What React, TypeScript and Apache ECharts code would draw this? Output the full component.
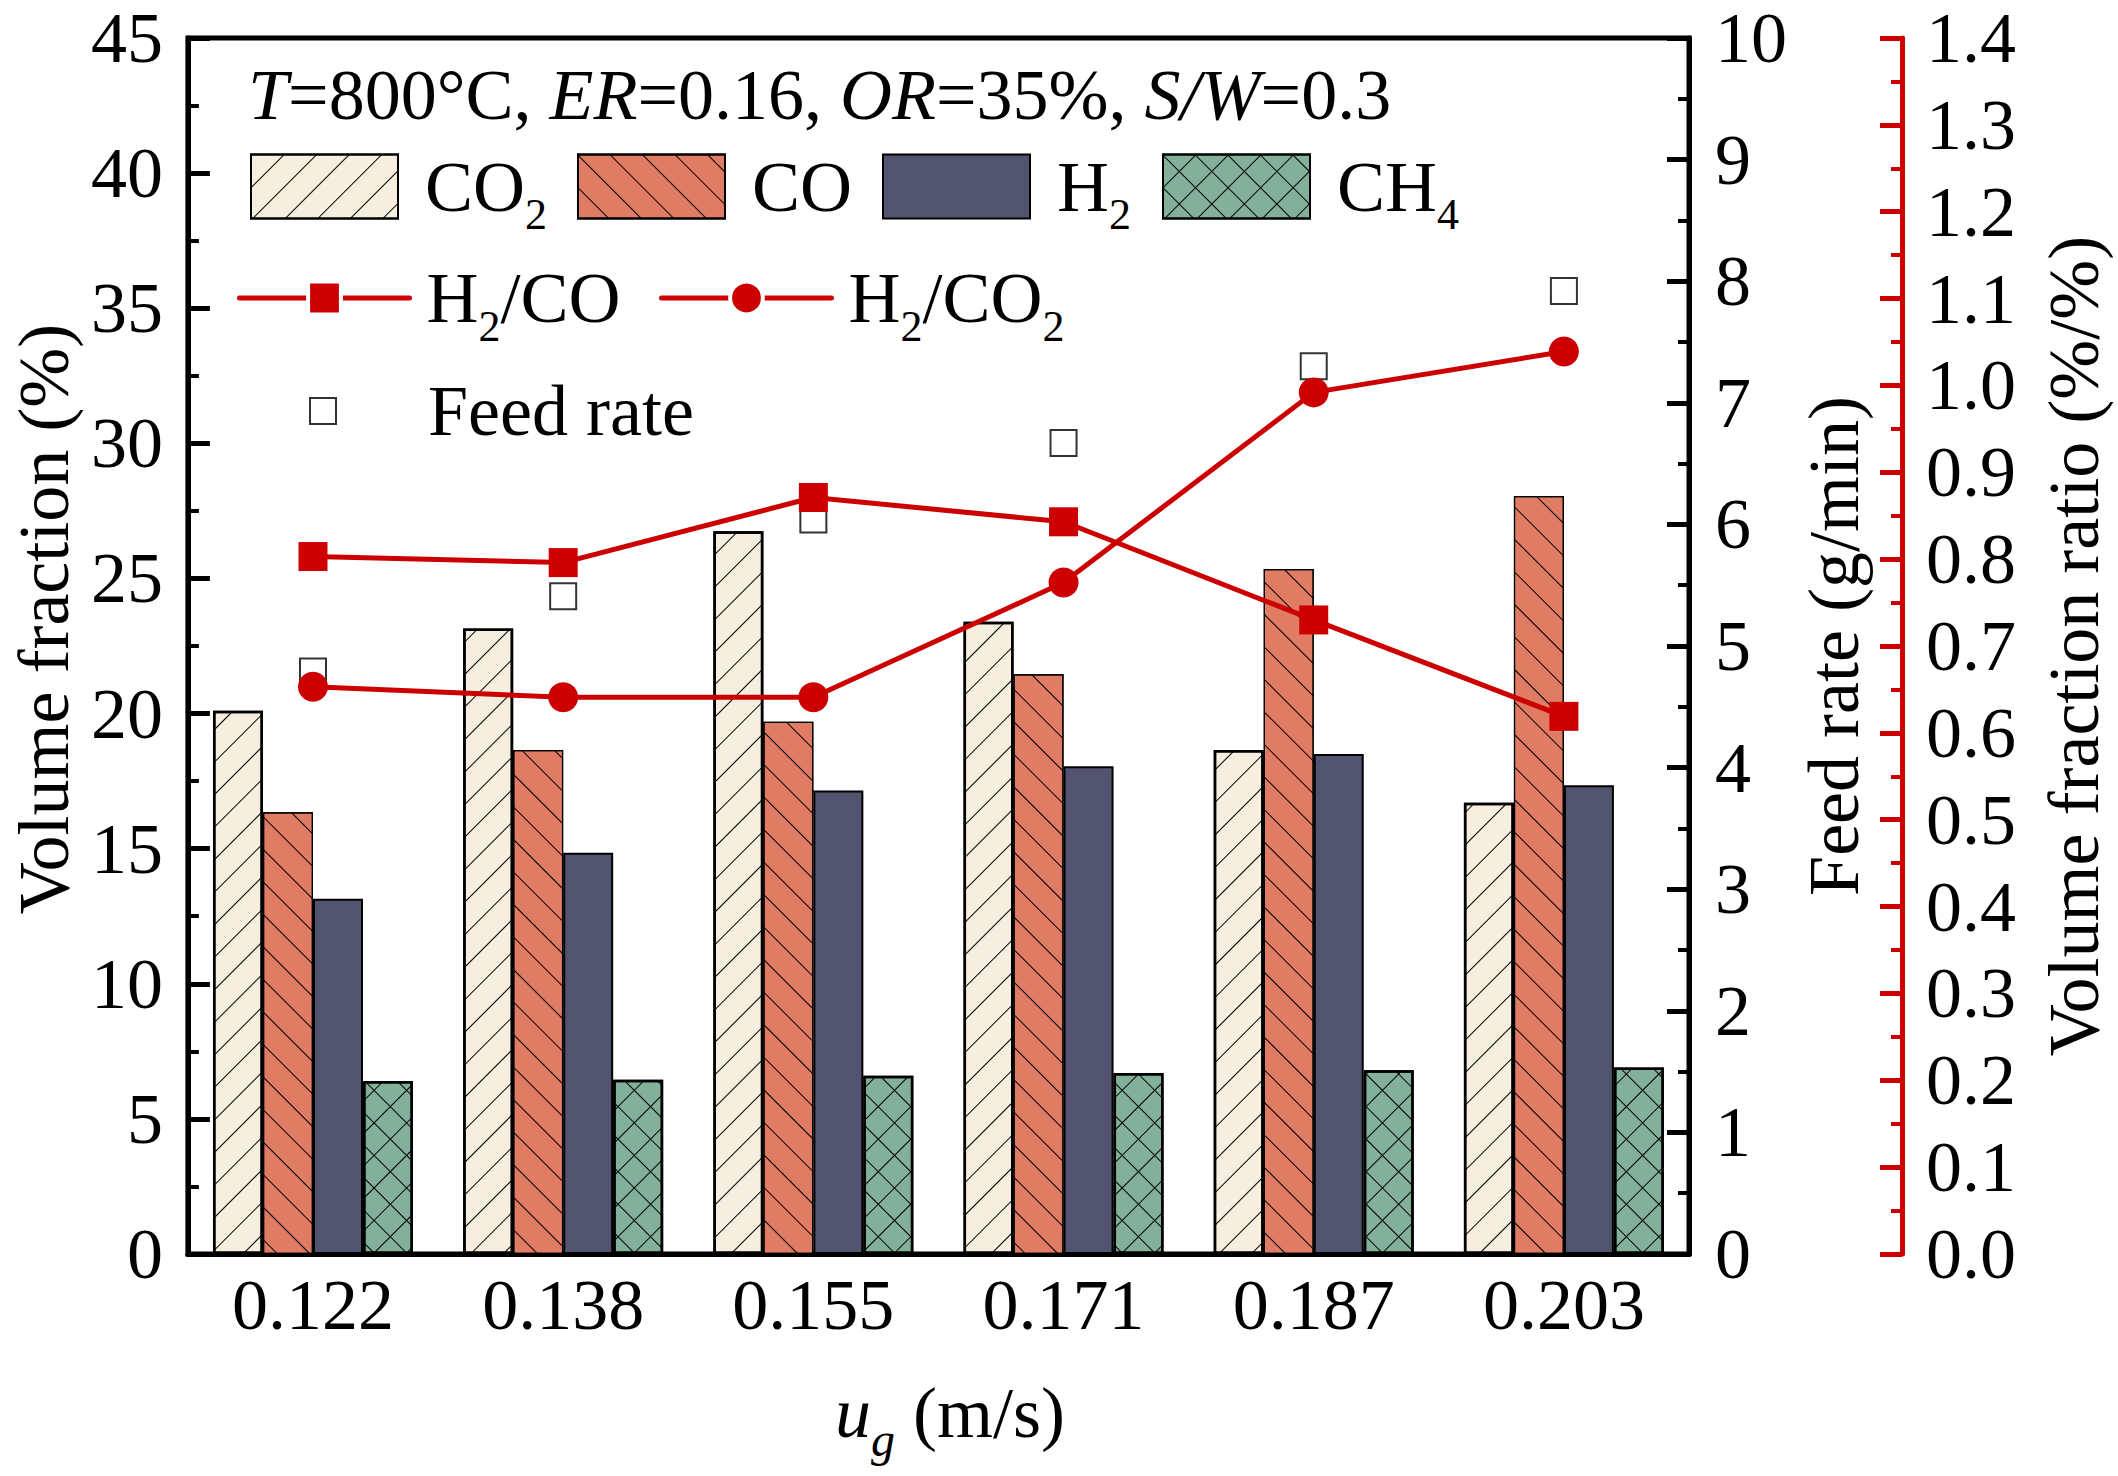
import React, { useEffect, useRef } from 'react';
import * as echarts from 'echarts';

// ---- data ----
const categories = ['0.122', '0.138', '0.155', '0.171', '0.187', '0.203'];
const co2Values = [20.1, 23.15, 26.75, 23.4, 18.65, 16.7];
const coValues = [16.35, 18.65, 19.7, 21.45, 25.35, 28.05];
const h2Values = [13.15, 14.85, 17.15, 18.05, 18.5, 17.35];
const ch4Values = [6.4, 6.45, 6.6, 6.7, 6.8, 6.9];
const h2coValues = [0.803, 0.796, 0.871, 0.843, 0.73, 0.619];
const h2co2Values = [0.653, 0.641, 0.641, 0.773, 0.992, 1.039];
const feedRateValues = [4.79, 5.41, 6.04, 6.67, 7.3, 7.92];

const leftAxisRange = [0, 45, 5];
const feedAxisRange = [0, 10, 1];
const ratioAxisRange = [0, 1.4, 0.1];

const FONT = '"Liberation Serif", "Times New Roman", Times, serif';
const RED = '#CC0000';
const BLACK = '#000';

const txt = (extra: any = {}) => ({ fontFamily: FONT, fontSize: 72, fontWeight: 'normal', color: BLACK, ...extra });

const legendRich = {
  a: txt({ lineHeight: 100, padding: [0, 0, 0, 22] }),
  c: txt({ lineHeight: 100, padding: [0, 0, 0, 12] }),
  f: txt({ lineHeight: 100, padding: [0, 0, 0, 87] }),
  b: txt({ lineHeight: 100 }),
  s: txt({ fontSize: 44, lineHeight: 44, verticalAlign: 'bottom' }),
};

export default function App() {
  const ref = useRef<HTMLDivElement>(null);
  useEffect(() => {
    document.body.style.margin = '0';
    const chart = echarts.init(ref.current as HTMLDivElement, null, { renderer: 'svg' });

    const hatch = (rotation: number) => ({
      symbol: 'rect',
      symbolSize: 1,
      color: BLACK,
      dashArrayX: [23, 0],
      dashArrayY: [1, 22],
      rotation,
    });
    const crossHatch = {
      symbol: 'rect',
      symbolSize: 1,
      color: BLACK,
      dashArrayX: [[23, 0], [1, 22]],
      dashArrayY: [1, 0, 22, 0],
      rotation: Math.PI / 4,
    };

    const legendBase = {
      padding: 0,
      selectedMode: false,
      orient: 'horizontal',
      textStyle: { rich: legendRich },
    };
    const lineLegend = {
      ...legendBase,
      itemWidth: 170,
      itemHeight: 41,
      lineStyle: { width: 5, color: RED, cap: 'round' },
      itemStyle: { color: RED, borderColor: '#fff', borderWidth: 4 },
    };
    const row1 = 150.5;
    const row2 = 262;
    const row3 = 375;

    const option: any = {
      animation: false,
      backgroundColor: '#fff',
      title: {
        text: '{i|T}{n|=800°C, }{i|ER}{n|=0.16, }{i|OR}{n|=35%, }{i|S/W}{n|=0.3}',
        left: 248,
        top: 59,
        padding: 0,
        textStyle: {
          fontWeight: 'normal',
          rich: {
            i: txt({ fontStyle: 'italic', lineHeight: 72 }),
            n: txt({ lineHeight: 72 }),
          },
        },
      },
      legend: [
        { ...legendBase, data: ['CO2'], left: 250, top: row1, itemWidth: 147, itemHeight: 64, icon: 'rect', formatter: () => '{a|CO}{s|2}' },
        { ...legendBase, data: ['CO'], left: 577, top: row1, itemWidth: 147, itemHeight: 64, icon: 'rect', formatter: () => '{a|CO}' },
        { ...legendBase, data: ['H2'], left: 882, top: row1, itemWidth: 147, itemHeight: 64, icon: 'rect', formatter: () => '{a|H}{s|2}' },
        { ...legendBase, data: ['CH4'], left: 1162, top: row1, itemWidth: 147, itemHeight: 64, icon: 'rect', formatter: () => '{a|CH}{s|4}' },
        { ...lineLegend, data: ['H2/CO'], left: 237, top: row2, formatter: () => '{c|H}{s|2}{b|/CO}' },
        { ...lineLegend, data: ['H2/CO2'], left: 659, top: row2, formatter: () => '{c|H}{s|2}{b|/CO}{s|2}' },
        { ...legendBase, data: ['Feed rate'], left: 309, top: row3, itemWidth: 26, itemHeight: 26, formatter: () => '{f|Feed rate}' },
      ],
      grid: {
        left: 180,
        right: 429,
        top: 38,
        bottom: 222,
        show: true,
        borderColor: BLACK,
        borderWidth: 5,
        backgroundColor: 'transparent',
      },
      xAxis: {
        type: 'category',
        data: categories,
        boundaryGap: true,
        axisLine: { lineStyle: { color: BLACK, width: 5 } },
        axisTick: { inside: true, length: 10, lineStyle: { color: BLACK, width: 4 } },
        axisLabel: txt({ margin: 21, lineHeight: 60 }),
        splitLine: { show: false },
        name: '{u|u}{g|g}{m| (m/s)}',
        nameLocation: 'middle',
        nameGap: 109,
        nameTextStyle: {
          rich: {
            u: txt({ fontStyle: 'italic', lineHeight: 100, padding: [0, 0, 0, 23] }),
            g: txt({ fontStyle: 'italic', fontSize: 48, lineHeight: 48, verticalAlign: 'bottom' }),
            m: txt({ lineHeight: 100 }),
          },
        },
      },
      yAxis: [
        {
          type: 'value',
          position: 'left',
          min: leftAxisRange[0],
          max: leftAxisRange[1],
          interval: leftAxisRange[2],
          axisLine: { show: true, lineStyle: { color: BLACK, width: 5 } },
          axisTick: { show: true, inside: true, length: 22, lineStyle: { color: BLACK, width: 5 } },
          minorTick: { show: true, splitNumber: 2, length: 11, lineStyle: { color: BLACK, width: 4 } },
          axisLabel: txt({ margin: 25, lineHeight: 56 }),
          splitLine: { show: false },
          name: 'Volume fraction (%)',
          nameLocation: 'middle',
          nameRotate: 90,
          nameGap: 103,
          nameTextStyle: txt({ padding: [0, 0, 0, 54] }),
        },
        {
          type: 'value',
          position: 'right',
          min: feedAxisRange[0],
          max: feedAxisRange[1],
          interval: feedAxisRange[2],
          axisLine: { show: true, lineStyle: { color: BLACK, width: 5 } },
          axisTick: { show: true, inside: true, length: 22, lineStyle: { color: BLACK, width: 5 } },
          minorTick: { show: true, splitNumber: 2, length: 11, lineStyle: { color: BLACK, width: 4 } },
          axisLabel: txt({ margin: 26, lineHeight: 56 }),
          splitLine: { show: false },
          name: 'Feed rate (g/min)',
          nameLocation: 'middle',
          nameRotate: 90,
          nameGap: 89,
          nameTextStyle: txt(),
        },
        {
          type: 'value',
          position: 'right',
          offset: 213,
          min: ratioAxisRange[0],
          max: ratioAxisRange[1],
          interval: ratioAxisRange[2],
          axisLine: { show: true, lineStyle: { color: RED, width: 5 } },
          axisTick: { show: true, inside: true, length: 22, lineStyle: { color: RED, width: 5 } },
          minorTick: { show: true, splitNumber: 2, length: 11, lineStyle: { color: RED, width: 4 } },
          axisLabel: txt({ margin: 24, lineHeight: 56, formatter: (v: number) => v.toFixed(1) }),
          splitLine: { show: false },
          name: 'Volume fraction ratio (%/%)',
          nameLocation: 'middle',
          nameRotate: 90,
          nameGap: 136,
          nameTextStyle: txt(),
        },
      ],
      series: [
        {
          name: 'CO2',
          type: 'bar',
          data: co2Values,
          barWidth: 50,
          barGap: '0%',
          itemStyle: { color: '#F6EFE0', borderColor: BLACK, borderWidth: 2.5, decal: hatch(-Math.PI / 4) },
        },
        {
          name: 'CO',
          type: 'bar',
          data: coValues,
          barWidth: 50,
          barGap: '0%',
          itemStyle: { color: '#E07B64', borderColor: BLACK, borderWidth: 1.2, decal: hatch(Math.PI / 4) },
        },
        {
          name: 'H2',
          type: 'bar',
          data: h2Values,
          barWidth: 50,
          barGap: '0%',
          itemStyle: { color: '#52536F', borderColor: BLACK, borderWidth: 2 },
        },
        {
          name: 'CH4',
          type: 'bar',
          data: ch4Values,
          barWidth: 50,
          barGap: '0%',
          itemStyle: { color: '#82B09A', borderColor: BLACK, borderWidth: 2.5, decal: crossHatch },
        },
        {
          name: 'Feed rate',
          type: 'scatter',
          yAxisIndex: 1,
          data: feedRateValues,
          symbol: 'rect',
          symbolSize: 26,
          itemStyle: { color: '#fff', borderColor: BLACK, borderWidth: 2 },
          z: 3,
        },
        {
          name: 'H2/CO',
          type: 'line',
          yAxisIndex: 2,
          data: h2coValues,
          symbol: 'rect',
          symbolSize: 29,
          itemStyle: { color: RED },
          lineStyle: { color: RED, width: 5 },
          z: 4,
        },
        {
          name: 'H2/CO2',
          type: 'line',
          yAxisIndex: 2,
          data: h2co2Values,
          symbol: 'circle',
          symbolSize: 30,
          itemStyle: { color: RED },
          lineStyle: { color: RED, width: 5 },
          z: 4,
        },
      ],
    };

    chart.setOption(option);
    return () => chart.dispose();
  }, []);

  return (
    <div
      ref={ref}
      style={{ position: 'absolute', left: 0, top: 0, width: 2118, height: 1476, background: '#fff' }}
    />
  );
}
